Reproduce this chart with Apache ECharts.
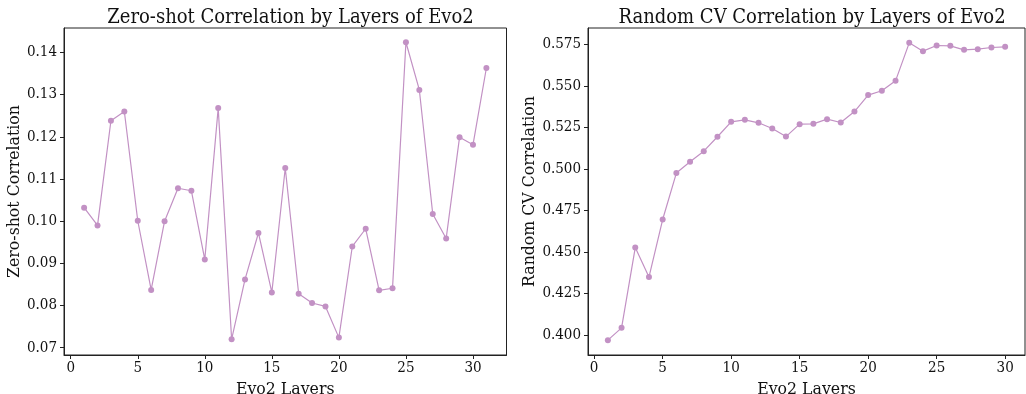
<!DOCTYPE html>
<html>
<head>
<meta charset="utf-8">
<script src="https://cdn.jsdelivr.net/npm/echarts@6/dist/echarts.min.js"></script>
<style>
html,body{margin:0;padding:0;background:#fff;}
#chart{width:1026px;height:394px;}
</style>
</head>
<body>
<div id="chart"></div>
<script>
const zeroShotLayers = [1,2,3,4,5,6,7,8,9,10,11,12,13,14,15,16,17,18,19,20,21,22,23,24,25,26,27,28,29,30,31];
const zeroShotValues = [0.1032,0.0990,0.1238,0.1260,0.1001,0.0837,0.1000,0.1078,0.1072,0.0909,0.1268,0.0720,0.0862,0.0972,0.0831,0.1126,0.0828,0.0806,0.0798,0.0724,0.0940,0.0982,0.0836,0.0841,0.1424,0.1311,0.1017,0.0959,0.1199,0.1181,0.1363];
const cvLayers = [1,2,3,4,5,6,7,8,9,10,11,12,13,14,15,16,17,18,19,20,21,22,23,24,25,26,27,28,29,30];
const cvValues = [0.3968,0.4042,0.4526,0.4348,0.4695,0.4975,0.5043,0.5107,0.5194,0.5284,0.5296,0.5278,0.5244,0.5195,0.5270,0.5272,0.5300,0.5280,0.5346,0.5445,0.5471,0.5531,0.5760,0.5710,0.5744,0.5742,0.5718,0.5722,0.5732,0.5736];
const xTicks = [0,5,10,15,20,25,30];
const zeroShotTicks = [0.07,0.08,0.09,0.10,0.11,0.12,0.13,0.14];
const cvTicks = [0.400,0.425,0.450,0.475,0.500,0.525,0.550,0.575];

const FONT = "'DejaVu Serif Condensed', 'DejaVu Serif', serif";
const COLOR = '#c291c4';
const AX = '#222';

function xAxisCfg(gridIndex, min, max) {
  return {
    type: 'value', gridIndex, min, max,
    name: 'Evo2 Layers', nameLocation: 'middle', nameGap: 25,
    nameTextStyle: {fontFamily: FONT, fontSize: 17.5, color: '#111'},
    axisLine: {show: true, onZero: false, lineStyle: {color: AX, width: 1}},
    axisTick: {show: true, length: 4, lineStyle: {color: AX}, customValues: xTicks},
    axisLabel: {fontFamily: FONT, fontSize: 15, color: '#111', margin: 6,
      customValues: xTicks, formatter: v => String(v)},
    splitLine: {show: false}
  };
}
function yAxisCfg(gridIndex, name, min, max, ticks, dec, gap) {
  return {
    type: 'value', gridIndex, min, max,
    name, nameLocation: 'middle', nameGap: gap,
    nameTextStyle: {fontFamily: FONT, fontSize: 17.5, color: '#111'},
    axisLine: {show: true, onZero: false, lineStyle: {color: AX, width: 1}},
    axisTick: {show: true, length: 4, lineStyle: {color: AX}, customValues: ticks},
    axisLabel: {fontFamily: FONT, fontSize: 15, color: '#111', margin: 7,
      customValues: ticks, formatter: v => v.toFixed(dec)},
    splitLine: {show: false}
  };
}

const chart = echarts.init(document.getElementById('chart'), null, {renderer: 'canvas'});
chart.setOption({
  animation: false,
  backgroundColor: '#fff',
  title: [
    {text: 'Zero-shot Correlation by Layers of Evo2', left: 285.5, top: 3, textAlign: 'center',
     textStyle: {fontFamily: FONT, fontSize: 20, fontWeight: 'normal', color: '#111'}},
    {text: 'Random CV Correlation by Layers of Evo2', left: 807, top: 3, textAlign: 'center',
     textStyle: {fontFamily: FONT, fontSize: 20, fontWeight: 'normal', color: '#111'}}
  ],
  grid: [
    {left: 64, right: 519.5, top: 28, bottom: 39, show: true, borderColor: AX, borderWidth: 1, containLabel: false, outerBoundsMode: 'none'},
    {left: 588, right: 1, top: 28, bottom: 39, show: true, borderColor: AX, borderWidth: 1, containLabel: false, outerBoundsMode: 'none'}
  ],
  xAxis: [xAxisCfg(0, -0.5, 32.5), xAxisCfg(1, -0.45, 31.45)],
  yAxis: [
    yAxisCfg(0, 'Zero-shot Correlation', 0.06828, 0.14578, zeroShotTicks, 2, 35),
    yAxisCfg(1, 'Random CV Correlation', 0.38785, 0.58495, cvTicks, 3, 47)
  ],
  series: [
    {type: 'line', xAxisIndex: 0, yAxisIndex: 0, data: zeroShotLayers.map((x,i)=>[x, zeroShotValues[i]]),
     symbol: 'circle', symbolSize: 6, lineStyle: {color: COLOR, width: 1.2}, itemStyle: {color: COLOR}},
    {type: 'line', xAxisIndex: 1, yAxisIndex: 1, data: cvLayers.map((x,i)=>[x, cvValues[i]]),
     symbol: 'circle', symbolSize: 6, lineStyle: {color: COLOR, width: 1.2}, itemStyle: {color: COLOR}}
  ]
});
</script>
</body>
</html>
